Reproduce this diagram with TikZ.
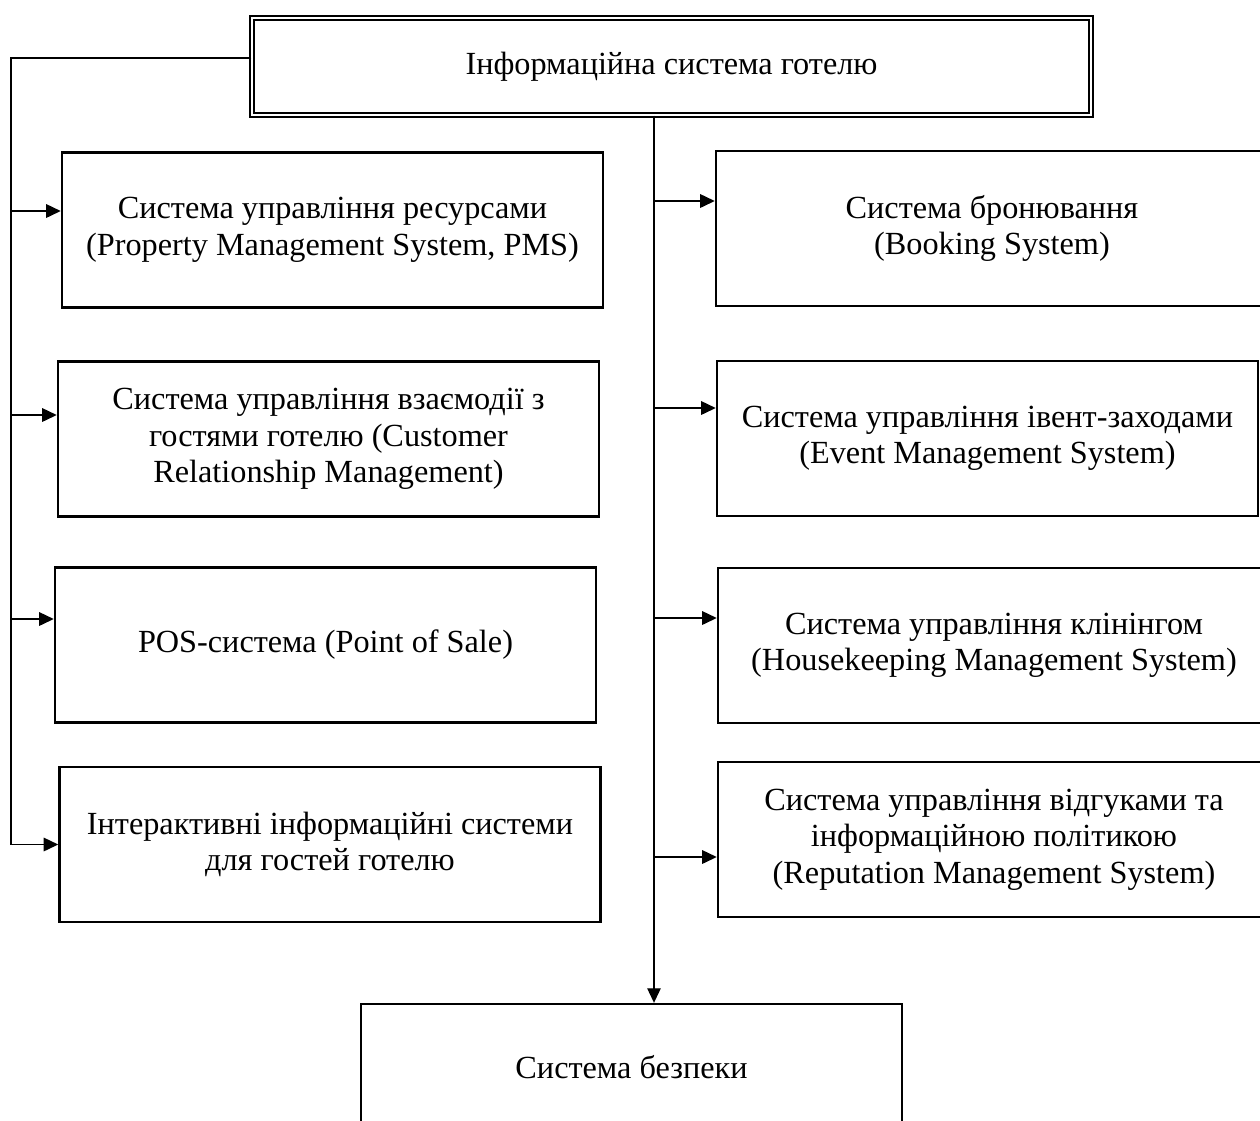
\documentclass[tikz,border=0pt]{standalone}
\usepackage{fontspec}
\setmainfont{Liberation Serif}
\usetikzlibrary{arrows.meta}

\begin{document}
\begin{tikzpicture}[
x=0.4464pt, y=-0.4464pt,
>={Triangle[length=6.5pt,width=6pt]},
every node/.style={font=\fontsize{14.4}{16.3}\selectfont},
link/.style={draw, line width=0.8pt},
sysbox/.style={
    draw,
    line width=1.1pt,
    align=center,
    inner sep=0pt,
    minimum width=241.5pt,
    minimum height=69.2pt
},
mainbox/.style={
    draw,
    line width=0.9pt,
    double=white,
    double distance=0.9pt,
    align=center,
    inner sep=0pt,
    minimum width=374.2pt,
    minimum height=43pt
}
]

\useasboundingbox (0,0) rectangle (1260,1120);
\clip (0,0) rectangle (1260,1120);

% =====================================================
% Bloky
% =====================================================

% Top block
\node[mainbox] (hotel) at (671.5,66.5) {Інформаційна система готелю};

% Left column
\node[sysbox] (pms) at (332.5,230) {Система управління ресурсами\\(Property Management System, PMS)};
\node[sysbox] (crm) at (328.5,439) {Система управління взаємодії з\\гостями готелю (Customer\\Relationship Management)};
\node[sysbox] (pos) at (325.5,645) {POS-система (Point of Sale)};
\node[sysbox] (guest) at (330,844.5) {Інтерактивні інформаційні системи\\для гостей готелю};

% Right column
\node[sysbox, minimum width=246.4pt] (booking) at (992,228.5) {Система бронювання\\(Booking System)};
\node[sysbox] (event) at (987.5,438.5) {Система управління івент-заходами\\(Event Management System)};
\node[sysbox, minimum width=246.4pt] (cleaning) at (994,645.5) {Система управління клінінгом\\(Housekeeping Management System)};
\node[sysbox, minimum width=246.4pt] (reputation) at (994,839.5) {Система управління відгуками та\\інформаційною політикою\\(Reputation Management System)};

% Bottom block
\node[sysbox, minimum height=56.2pt] (security) at (631.5,1067) {Система безпеки};

% =====================================================
% Spojnice
% =====================================================

\coordinate (lcorner) at (11,58);
\coordinate (rtrunk) at (654,0);

% Left trunk
\draw[link, ->] (hotel.west |- lcorner) -- (lcorner) |- (guest.west);
\foreach \sys/\yy in {pms/211,crm/415,pos/619}{
\coordinate (l\sys) at (lcorner |- 0,\yy);
\draw[link, ->] (l\sys) -- (l\sys -| \sys.west);
}

% Right trunk
\draw[link, line width=0.6pt, ->] (hotel.south -| rtrunk) -- (security.north -| rtrunk);
\foreach \sys/\yy in {booking/201,event/408,cleaning/618,reputation/857}{
\coordinate (r\sys) at (rtrunk |- 0,\yy);
\draw[link, ->] (r\sys) -- (r\sys -| \sys.west);
}

\end{tikzpicture}
\end{document}
